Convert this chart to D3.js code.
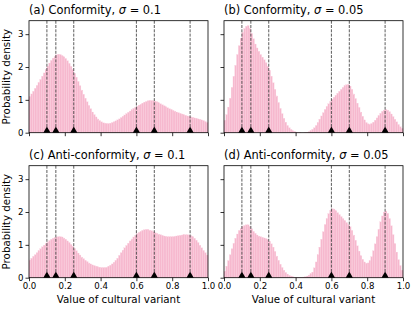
<!DOCTYPE html>
<html>
<head>
<meta charset="utf-8">
<script src="https://cdn.jsdelivr.net/npm/d3@7"></script>
<style>
  body { margin: 0; background: #fff; }
  text { font-family: "DejaVu Sans", sans-serif; }
</style>
</head>
<body>
<svg id="chart" width="415" height="310"></svg>
<script>
// histogram densities, 100 bins over [0, 1]
var confWide = [
  1.10, 1.18, 1.26, 1.35, 1.44, 1.53, 1.62, 1.72, 1.82, 1.93,
  2.03, 2.12, 2.20, 2.27, 2.33, 2.37, 2.39, 2.38, 2.35, 2.31,
  2.26, 2.19, 2.11, 2.02, 1.92, 1.81, 1.69, 1.56, 1.43, 1.30,
  1.17, 1.05, 0.94, 0.83, 0.73, 0.63, 0.55, 0.48, 0.42, 0.37,
  0.33, 0.30, 0.29, 0.28, 0.28, 0.29, 0.31, 0.33, 0.36, 0.39,
  0.42, 0.46, 0.50, 0.54, 0.58, 0.62, 0.66, 0.70, 0.74, 0.77,
  0.80, 0.84, 0.87, 0.90, 0.93, 0.95, 0.97, 0.98, 0.98, 0.97,
  0.96, 0.94, 0.91, 0.88, 0.85, 0.82, 0.79, 0.76, 0.73, 0.71,
  0.68, 0.66, 0.63, 0.61, 0.59, 0.57, 0.55, 0.53, 0.51, 0.50,
  0.48, 0.47, 0.45, 0.44, 0.42, 0.41, 0.39, 0.37, 0.34, 0.31
];
var confNarrow = [
  0.38, 0.55, 0.78, 1.05, 1.38, 1.72, 2.05, 2.38, 2.65, 2.88,
  3.05, 3.17, 3.24, 3.26, 3.18, 3.02, 2.86, 2.70, 2.58, 2.48,
  2.38, 2.30, 2.22, 2.13, 2.03, 1.90, 1.72, 1.52, 1.32, 1.12,
  0.92, 0.74, 0.58, 0.44, 0.32, 0.22, 0.15, 0.10, 0.06, 0.04,
  0.02, 0.01, 0.01, 0.00, 0.00, 0.01, 0.01, 0.03, 0.06, 0.10,
  0.15, 0.22, 0.31, 0.41, 0.51, 0.61, 0.71, 0.80, 0.88, 0.95,
  1.02, 1.08, 1.14, 1.20, 1.26, 1.32, 1.38, 1.43, 1.46, 1.47,
  1.42, 1.32, 1.18, 1.04, 0.90, 0.77, 0.63, 0.50, 0.39, 0.31,
  0.27, 0.26, 0.28, 0.32, 0.38, 0.45, 0.52, 0.59, 0.65, 0.69,
  0.71, 0.69, 0.64, 0.57, 0.49, 0.41, 0.33, 0.25, 0.18, 0.13
];
var antiWide = [
  0.54, 0.59, 0.65, 0.70, 0.76, 0.82, 0.88, 0.94, 0.99, 1.04,
  1.09, 1.13, 1.17, 1.20, 1.22, 1.24, 1.25, 1.25, 1.24, 1.21,
  1.17, 1.12, 1.07, 1.01, 0.95, 0.89, 0.82, 0.75, 0.69, 0.63,
  0.58, 0.53, 0.49, 0.45, 0.42, 0.39, 0.37, 0.35, 0.33, 0.32,
  0.31, 0.31, 0.31, 0.32, 0.35, 0.38, 0.42, 0.47, 0.53, 0.59,
  0.68, 0.76, 0.84, 0.91, 0.98, 1.05, 1.12, 1.18, 1.24, 1.29,
  1.34, 1.38, 1.41, 1.44, 1.46, 1.47, 1.47, 1.45, 1.43, 1.40,
  1.37, 1.35, 1.33, 1.31, 1.29, 1.27, 1.26, 1.25, 1.25, 1.25,
  1.25, 1.26, 1.27, 1.28, 1.29, 1.30, 1.31, 1.31, 1.31, 1.30,
  1.28, 1.25, 1.20, 1.14, 1.07, 0.99, 0.91, 0.83, 0.76, 0.69
];
var antiNarrow = [
  0.20, 0.35, 0.52, 0.70, 0.88, 1.05, 1.20, 1.33, 1.44, 1.51,
  1.56, 1.59, 1.61, 1.61, 1.56, 1.49, 1.41, 1.35, 1.30, 1.27,
  1.25, 1.23, 1.21, 1.19, 1.16, 1.11, 1.03, 0.93, 0.80, 0.66,
  0.53, 0.41, 0.31, 0.23, 0.16, 0.11, 0.07, 0.05, 0.03, 0.02,
  0.01, 0.01, 0.01, 0.01, 0.02, 0.03, 0.05, 0.08, 0.12, 0.17,
  0.30, 0.48, 0.70, 0.93, 1.17, 1.40, 1.62, 1.80, 1.95, 2.05,
  2.10, 2.09, 2.04, 1.98, 1.92, 1.86, 1.80, 1.74, 1.68, 1.62,
  1.55, 1.44, 1.30, 1.14, 0.97, 0.81, 0.67, 0.56, 0.48, 0.44,
  0.45, 0.52, 0.64, 0.82, 1.03, 1.25, 1.48, 1.70, 1.88, 2.00,
  2.03, 1.96, 1.80, 1.58, 1.31, 1.04, 0.78, 0.55, 0.37, 0.23
];

// initial trait values (dashed lines and triangles)
var initialValues = [0.1, 0.15, 0.25, 0.6, 0.7, 0.9];

var panelLabels = ["(a) Conformity, ", "(b) Conformity, ", "(c) Anti-conformity, ", "(d) Anti-conformity, "];
var sigmaLabels = ["0.1", "0.05", "0.1", "0.05"];
var panelData = [confWide, confNarrow, antiWide, antiNarrow];

var xTicks = [0, 0.2, 0.4, 0.6, 0.8, 1.0];
var yTicks = [0, 1, 2, 3];

var svg = d3.select("#chart");

var axW = 179, axH = 112;
var lefts = [29, 224];
var tops = [20.7, 165.7];

var x = d3.scaleLinear().domain([0, 1]).range([0, axW]);
var y = d3.scaleLinear().domain([0, 3.41]).range([axH, 0]);

panelData.forEach(function(vals, p) {
    var col = p % 2, row = Math.floor(p / 2);
    var g = svg.append("g")
        .attr("transform", "translate(" + lefts[col] + "," + tops[row] + ")");

    var bins = vals.map(function(v, i) { return {x0: i / vals.length, x1: (i + 1) / vals.length, v: v}; });

    // bars
    g.append("g")
        .selectAll("rect")
        .data(bins)
        .enter()
        .append("rect")
        .attr("x", function(d) { return x(d.x0); })
        .attr("width", function(d) { return x(d.x1) - x(d.x0); })
        .attr("y", function(d) { return y(d.v); })
        .attr("height", function(d) { return y(0) - y(d.v); })
        .attr("fill", "#f6b8ce")
        .attr("stroke", "#fad0df")
        .attr("stroke-width", 0.25);

    // dashed lines at initial values
    g.append("g")
        .selectAll("line")
        .data(initialValues)
        .enter()
        .append("line")
        .attr("x1", function(d) { return x(d); })
        .attr("x2", function(d) { return x(d); })
        .attr("y1", 0)
        .attr("y2", axH)
        .attr("stroke", "#333")
        .attr("stroke-width", 0.8)
        .attr("stroke-dasharray", "3,1.3");

    // triangles on the baseline
    g.append("g")
        .selectAll("path")
        .data(initialValues)
        .enter()
        .append("path")
        .attr("d", function(d) {
            var cx = x(d), by = y(0);
            return "M" + (cx - 3.6) + "," + by + "L" + (cx + 3.6) + "," + by + "L" + cx + "," + (by - 6.2) + "Z";
        })
        .attr("fill", "#000");

    // axes
    var xAxis = d3.axisBottom(x).tickValues(xTicks).tickSize(3.5).tickPadding(2)
        .tickFormat(row === 1 ? d3.format(".1f") : "");
    var yAxis = d3.axisLeft(y).tickValues(yTicks).tickSize(3.5).tickPadding(2)
        .tickFormat(col === 0 ? d3.format("d") : "");

    var gx = g.append("g").attr("transform", "translate(0," + axH + ")").call(xAxis);
    var gy = g.append("g").call(yAxis);
    [gx, gy].forEach(function(a) {
        a.select(".domain").remove();
        a.selectAll(".tick line").attr("stroke", "#000").attr("stroke-width", 0.8);
        a.selectAll(".tick text").attr("fill", "#000")
            .style("font-family", "DejaVu Sans").style("font-size", "8.6px");
    });

    // frame
    g.append("rect")
        .attr("width", axW)
        .attr("height", axH)
        .attr("fill", "none")
        .attr("stroke", "#000")
        .attr("stroke-width", 0.8);

    // title
    var t = g.append("text")
        .attr("x", 0)
        .attr("y", -6.3)
        .style("font-size", "11.4px")
        .attr("fill", "#000");
    t.append("tspan").text(panelLabels[p]);
    t.append("tspan").style("font-style", "italic").text("\u03c3");
    t.append("tspan").text(" = " + sigmaLabels[p]);

    if (col === 0) {
        g.append("text")
            .attr("transform", "translate(-19," + (axH / 2) + ") rotate(-90)")
            .attr("text-anchor", "middle")
            .style("font-size", "10.3px")
            .attr("fill", "#000")
            .text("Probability density");
    }
    if (row === 1) {
        g.append("text")
            .attr("x", axW / 2)
            .attr("y", axH + 25.5)
            .attr("text-anchor", "middle")
            .style("font-size", "10.3px")
            .attr("fill", "#000")
            .text("Value of cultural variant");
    }
});
</script>
</body>
</html>
